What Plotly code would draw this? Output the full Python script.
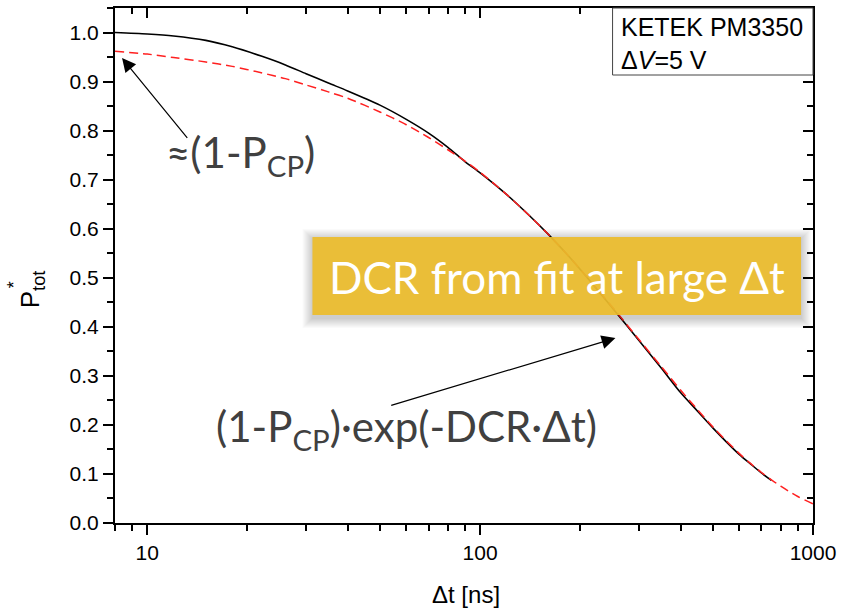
import plotly.graph_objects as go
import numpy as np

# Measured total probability vs. time difference (solid black)
dt_meas = [8, 10, 12, 15, 18, 22, 26, 30, 35, 40, 50, 60, 70, 80, 90, 100,
           120, 140, 160, 180, 200, 250, 300, 350, 400, 450, 500, 550, 600,
           650, 700, 750]
p_meas = [1.000, 0.997, 0.993, 0.984, 0.971, 0.952, 0.934, 0.916, 0.897,
          0.881, 0.852, 0.823, 0.795, 0.766, 0.737, 0.714, 0.670, 0.628,
          0.589, 0.552, 0.517, 0.438, 0.372, 0.316, 0.266, 0.228, 0.194,
          0.165, 0.140, 0.120, 0.102, 0.087]

# Exponential fit (dashed red)
dt_fit = [8, 10, 12, 15, 18, 22, 26, 30, 35, 40, 50, 60, 70, 80, 90, 100,
          120, 140, 160, 180, 200, 250, 300, 350, 400, 450, 500, 550, 600,
          650, 700, 750, 800, 900, 1000]
p_fit = [0.962, 0.956, 0.949, 0.940, 0.931, 0.918, 0.906, 0.893, 0.879,
         0.866, 0.838, 0.812, 0.786, 0.761, 0.738, 0.715, 0.670, 0.628,
         0.589, 0.552, 0.517, 0.440, 0.374, 0.319, 0.271, 0.231, 0.196,
         0.167, 0.142, 0.121, 0.103, 0.088, 0.075, 0.054, 0.039]

x_major = [10, 100, 1000]
x_major_labels = ["10", "100", "1000"]
x_minor = [8, 9, 20, 30, 40, 50, 60, 70, 80, 90,
           200, 300, 400, 500, 600, 700, 800, 900]
x_range = [8, 1000]
y_range = [0, 1.05]

W, H = 844, 610
ML, MR, MT, MB = 115, 29, 8, 87
PW, PH = W - ML - MR, H - MT - MB


def px(xp):
    return (xp - ML) / PW


def py(yp):
    return (H - MB - yp) / PH


AX_FONT = "Liberation Sans, Arial, sans-serif"
NOTE_FONT = "Lato, Open Sans, sans-serif"
NOTE_GREY = "#404040"

fig = go.Figure()
fig.add_trace(go.Scatter(x=dt_meas, y=p_meas, mode="lines",
                         line=dict(color="black", width=1.6, shape="spline",
                                   smoothing=0.8),
                         hoverinfo="skip", showlegend=False))
fig.add_trace(go.Scatter(x=dt_fit, y=p_fit, mode="lines",
                         line=dict(color="#ff2020", width=1.5, dash="9px,5px",
                                   shape="spline", smoothing=0.8),
                         hoverinfo="skip", showlegend=False))
# carrier for the mirrored top/right axes
fig.add_trace(go.Scatter(x=[dt_fit[0]], y=[p_fit[0]], xaxis="x2", yaxis="y2",
                         mode="markers", marker=dict(opacity=0),
                         hoverinfo="skip", showlegend=False))

lx = [np.log10(x_range[0]), np.log10(x_range[1])]
common_x = dict(type="log", range=lx, tickvals=x_major, showgrid=False,
                zeroline=False, showline=True, linecolor="black", linewidth=2,
                tickwidth=1.8, tickcolor="black")
common_y = dict(range=y_range, tick0=0, dtick=0.1, showgrid=False,
                zeroline=False, showline=True, linecolor="black", linewidth=2,
                tickwidth=1.8, tickcolor="black")

fig.update_layout(
    width=W, height=H,
    margin=dict(l=ML, r=MR, t=MT, b=MB),
    paper_bgcolor="white", plot_bgcolor="white",
    xaxis=dict(**common_x, ticktext=x_major_labels, ticks="outside", ticklen=10,
               tickfont=dict(family=AX_FONT, size=21, color="black"),
               minor=dict(tickvals=x_minor, ticks="outside", ticklen=6,
                          tickwidth=1.8, tickcolor="black")),
    yaxis=dict(**common_y, ticks="outside", ticklen=10, tickformat=".1f",
               tickfont=dict(family=AX_FONT, size=21, color="black"),
               minor=dict(dtick=0.05, tick0=0, ticks="outside", ticklen=6,
                          tickwidth=1.8, tickcolor="black")),
    xaxis2=dict(**common_x, overlaying="x", side="top", anchor="y2",
                ticks="inside", ticklen=10, showticklabels=False,
                minor=dict(tickvals=x_minor, ticks="inside", ticklen=6,
                           tickwidth=1.8, tickcolor="black")),
    yaxis2=dict(**common_y, overlaying="y", side="right", anchor="x2",
                ticks="inside", ticklen=10, showticklabels=False,
                minor=dict(dtick=0.05, tick0=0, ticks="inside", ticklen=6,
                           tickwidth=1.8, tickcolor="black")),
)


def note(xp, yp, text, font, **kw):
    fig.add_annotation(xref="paper", yref="paper", x=px(xp), y=py(yp),
                       xanchor=kw.pop("xanchor", "center"),
                       yanchor=kw.pop("yanchor", "middle"),
                       showarrow=False, text=text, font=font, **kw)


# Label box in the upper right corner
fig.add_shape(type="rect", xref="paper", yref="paper",
              x0=px(614), x1=1.0, y0=py(75), y1=1.0,
              line=dict(color="#444", width=1), fillcolor="white", layer="above")
note(620, 27, "KETEK PM3350", dict(family=AX_FONT, size=25, color="black"),
     xanchor="left")
note(620, 60, "\u0394<i>V</i>=5 V", dict(family=AX_FONT, size=25, color="black"),
     xanchor="left")

# Highlight box with soft shadow
bx0, bx1, by0, by1 = 313, 803, 237, 315
for k in range(1, 11):
    fig.add_shape(type="rect", xref="paper", yref="paper",
                  x0=px(bx0 - k), x1=px(bx1 + k), y0=py(by1 + k + 3), y1=py(by0 - k + 2),
                  line=dict(width=0), fillcolor="rgba(0,0,0,0.018)", layer="above")
fig.add_shape(type="rect", xref="paper", yref="paper",
              x0=px(bx0), x1=px(bx1), y0=py(by1), y1=py(by0),
              line=dict(width=0), fillcolor="rgba(236,188,44,0.93)", layer="above")
note((bx0 + bx1) / 2, 277, "DCR from fit at large \u0394t",
     dict(family=NOTE_FONT, size=44, color="white"))

# Formula notes
note(241, 155, "\u2248(1-P<sub>CP</sub>)",
     dict(family=NOTE_FONT, size=42, color=NOTE_GREY))
note(407, 429, "(1-P<sub>CP</sub>)\u00b7exp(-DCR\u00b7\u0394t)",
     dict(family=NOTE_FONT, size=42, color=NOTE_GREY))

# Arrows (log-axis positions in log10 units)
fig.add_annotation(xref="x", yref="y", axref="x", ayref="y",
                   x=np.log10(8.4), y=0.948, ax=np.log10(13.3), ay=0.782,
                   text="", showarrow=True, arrowhead=2, arrowsize=2.3,
                   arrowwidth=1.2, arrowcolor="black", standoff=0)
fig.add_annotation(xref="x", yref="y", axref="x", ayref="y",
                   x=np.log10(255), y=0.377, ax=np.log10(53.5), ay=0.239,
                   text="", showarrow=True, arrowhead=2, arrowsize=2.3,
                   arrowwidth=1.2, arrowcolor="black", standoff=0)

# Axis titles
note(467, 594, "\u0394t [ns]", dict(family=AX_FONT, size=24, color="black"))
note(31, 289, "P<sub>tot</sub>", dict(family=AX_FONT, size=26, color="black"),
     textangle=-90)
note(14, 285, "*", dict(family=AX_FONT, size=18, color="black"), textangle=-90)

fig.write_html("out.html")
